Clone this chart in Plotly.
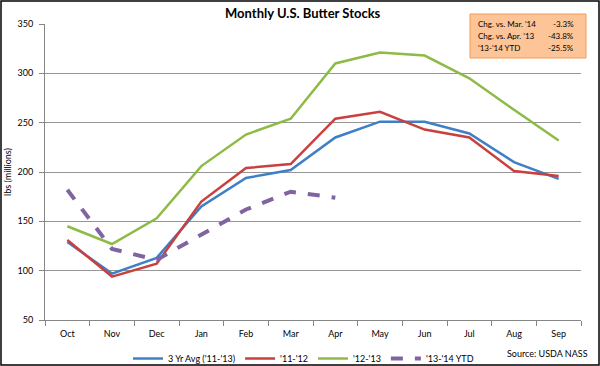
import plotly.graph_objects as go

months = ["Oct", "Nov", "Dec", "Jan", "Feb", "Mar", "Apr", "May", "Jun", "Jul", "Aug", "Sep"]
avg_11_13 = [129, 97, 113, 165, 194, 202, 235, 251, 251, 239, 210, 193]
y_11_12 = [131, 94, 107, 170, 204, 208, 254, 261, 243, 235, 201, 196]
y_12_13 = [145, 127, 153, 206, 238, 254, 310, 321, 318, 295, 263, 232]
y_13_14 = [182, 122, 111, 136, 162, 180, 174]

box_labels = ["Chg. vs. Mar. '14", "Chg. vs. Apr. '13", "'13-'14 YTD"]
box_values = ["-3.3%", "-43.8%", "-25.5%"]

FONT = "Lato"
W, H = 600, 366
ML, MR, MT, MB = 45, 19, 24, 46
PW, PH = W - ML - MR, H - MT - MB

def px(x):
    return (x - ML) / PW

def py(y):
    return (H - MB - y) / PH

fig = go.Figure()
fig.add_trace(go.Scatter(x=months, y=avg_11_13, mode="lines", name="3 Yr Avg ('11-'13)",
                         line=dict(color="#3F7FC6", width=2.5)))
fig.add_trace(go.Scatter(x=months, y=y_11_12, mode="lines", name="'11-'12",
                         line=dict(color="#C9413E", width=2.5)))
fig.add_trace(go.Scatter(x=months, y=y_12_13, mode="lines", name="'12-'13",
                         line=dict(color="#8DBB46", width=2.5)))
fig.add_trace(go.Scatter(x=months[:len(y_13_14)], y=y_13_14, mode="lines", name="'13-'14 YTD",
                         line=dict(color="#8064A2", width=4, dash="dash")))

shapes = [
    dict(type="rect", xref="paper", yref="paper", x0=px(1), x1=px(599), y0=py(365), y1=py(1),
         line=dict(color="black", width=1.5), fillcolor="rgba(0,0,0,0)", layer="above"),
    dict(type="rect", xref="paper", yref="paper", x0=px(470), x1=px(586), y0=py(58), y1=py(14),
         line=dict(color="#F39B55", width=1), fillcolor="#FCC497", layer="above"),
]

annotations = [
    dict(text="<b>Monthly U.S. Butter Stocks</b>", xref="paper", yref="paper", x=px(303), y=py(13),
         xanchor="center", yanchor="middle", showarrow=False, font=dict(family=FONT, size=13, color="black")),
    dict(text="Source: USDA NASS", xref="paper", yref="paper", x=px(590), y=py(353),
         xanchor="right", yanchor="middle", showarrow=False, font=dict(family=FONT, size=9, color="black")),
]
for i, (lab, val) in enumerate(zip(box_labels, box_values)):
    yy = py(24 + i * 12)
    annotations.append(dict(text=lab, xref="paper", yref="paper", x=px(476), y=yy, xanchor="left",
                            yanchor="middle", showarrow=False, font=dict(family=FONT, size=8, color="black")))
    annotations.append(dict(text=val, xref="paper", yref="paper", x=px(576), y=yy, xanchor="right",
                            yanchor="middle", showarrow=False, font=dict(family=FONT, size=8, color="black")))

fig.update_layout(
    width=W, height=H,
    margin=dict(l=ML, r=MR, t=MT, b=MB, autoexpand=False),
    paper_bgcolor="white", plot_bgcolor="white",
    font=dict(family=FONT, size=9, color="black"),
    showlegend=True,
    legend=dict(orientation="h", x=px(128), y=py(344), xanchor="left", yanchor="top",
                font=dict(family=FONT, size=9), tracegroupgap=0, bgcolor="rgba(0,0,0,0)"),
    xaxis=dict(type="category", categoryorder="array", categoryarray=months,
               range=[-0.5, 11.5], showgrid=False, showline=True, linecolor="#868686",
               ticks="outside", tickson="boundaries", ticklen=5, tickcolor="#868686",
               tickfont=dict(family=FONT, size=9), automargin=False, ticklabelstandoff=5),
    yaxis=dict(range=[50, 350], dtick=50, showgrid=True, gridcolor="#969696", gridwidth=1,
               showline=True, linecolor="#868686", ticks="outside", ticklen=5, tickcolor="#868686",
               tickfont=dict(family=FONT, size=9), automargin=False, ticklabelstandoff=4,
               title=dict(text="lbs (millions)", font=dict(family=FONT, size=9), standoff=4)),
    shapes=shapes,
    annotations=annotations,
)

fig.write_html("out.html", config={"displayModeBar": False},
               post_script="document.body.style.margin='0';document.body.style.overflow='hidden';")
